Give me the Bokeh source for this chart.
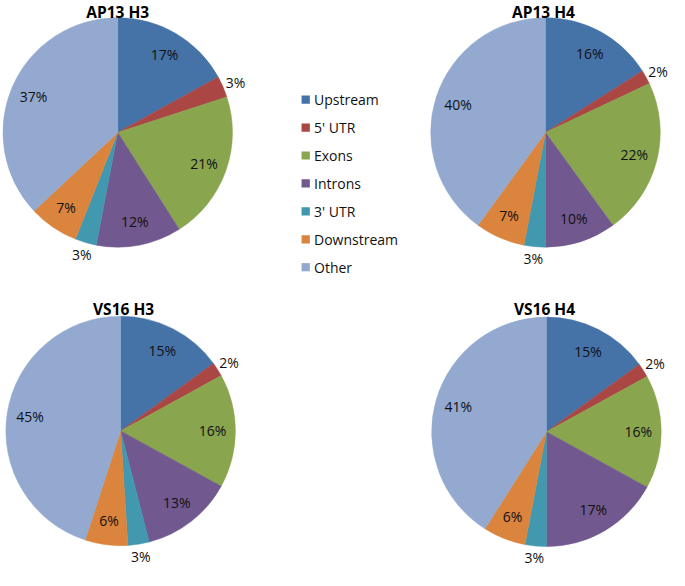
import numpy as np
from bokeh.plotting import figure
from bokeh.models import Range1d, ColumnDataSource
from bokeh.embed import file_html
from bokeh.resources import INLINE
from bokeh.core.properties import value

# ---- data ----
categories = ["Upstream", "5' UTR", "Exons", "Introns", "3' UTR", "Downstream", "Other"]
colors = ["#4572A7", "#AA4643", "#89A54E", "#71588F", "#4198AF", "#DB843D", "#93A9CF"]
titles = ["AP13 H3", "AP13 H4", "VS16 H3", "VS16 H4"]
ap13_h3 = [17, 3, 21, 12, 3, 7, 37]
ap13_h4 = [16, 2, 22, 10, 3, 7, 40]
vs16_h3 = [15, 2, 16, 13, 3, 6, 45]
vs16_h4 = [15, 2, 16, 17, 3, 6, 41]
series = [ap13_h3, ap13_h4, vs16_h3, vs16_h4]

# ---- layout (reference pixel coordinates, y downward) ----
W, H = 685, 586
centers = [(120, 137), (558, 137), (123, 447), (559, 448)]
title_pos = [(120, 12), (556, 12), (126, 320), (557, 320)]
R = 117.5
FONT = "Open Sans"

def Y(y):
    return H - y

p = figure(width=669, height=570, x_range=Range1d(0, W), y_range=Range1d(-6, H),
           output_backend="svg", toolbar_location=None, min_border=0,
           x_axis_type=None, y_axis_type=None)
p.grid.visible = False
p.outline_line_color = None
p.background_fill_color = "white"
p.border_fill_color = "white"

for vals, (cx, cy), title, (tx, ty) in zip(series, centers, titles, title_pos):
    v = np.array(vals, dtype=float)
    frac = v / v.sum()
    cum_end = np.cumsum(frac)
    cum_start = cum_end - frac
    start = np.pi / 2 - 2 * np.pi * cum_end
    end = np.pi / 2 - 2 * np.pi * cum_start
    src = ColumnDataSource(dict(start=start, end=end, color=colors))
    p.wedge(x=cx, y=Y(cy), radius=R, start_angle="start", end_angle="end",
            fill_color="color", line_color="color", line_width=0.5, source=src)
    mid = 2 * np.pi * (cum_start + frac / 2)  # clockwise from top
    rf = np.where(v < 5, 1.12, 0.8)
    lx = cx + rf * R * np.sin(mid)
    ly = Y(cy) + rf * R * np.cos(mid)
    labels = [f"{int(x)}%" for x in vals]
    p.text(x=lx, y=ly, text=labels, text_align="center", text_baseline="middle",
           text_font=value(FONT), text_font_size="14px", text_color="#111111")
    p.text(x=[tx], y=[Y(ty)], text=[title], text_align="center", text_baseline="middle",
           text_font=value(FONT), text_font_size="15.5px", text_font_style="bold",
           text_color="#000000")

# ---- legend ----
leg_y = [Y(103 + 29 * i) for i in range(len(categories))]
p.rect(x=[312.5] * len(categories), y=leg_y, width=8.5, height=8.5,
       fill_color=colors, line_color=None)
p.text(x=[321] * len(categories), y=leg_y, text=categories, text_align="left",
       text_baseline="middle", text_font=value(FONT), text_font_size="14px",
       text_color="#111111")

open("out.html", "w").write(file_html(p, INLINE))
